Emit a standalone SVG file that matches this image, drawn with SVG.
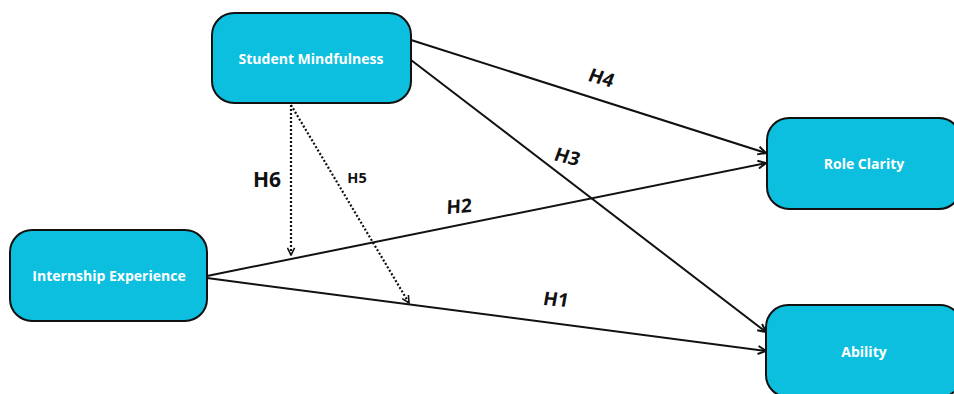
<svg xmlns="http://www.w3.org/2000/svg" width="954" height="394" viewBox="0 0 954 394">
<style>
.node rect{fill:#0dbfdf;stroke:#111;stroke-width:2}
.node text{font-family:"Open Sans","Noto Sans",sans-serif;font-weight:bold;font-size:14px;fill:#fff;text-anchor:middle}
.conn line{stroke:#111;stroke-width:2;fill:none}
.conn .dot{stroke-width:2.2;stroke-dasharray:2 2}
.lbl{font-family:"Open Sans","Noto Sans",sans-serif;font-weight:bold;fill:#111;text-anchor:middle}
</style>
<defs>
<marker id="ah" viewBox="0 0 10 10" refX="9" refY="5" markerWidth="10" markerHeight="10" markerUnits="userSpaceOnUse" orient="auto">
<path d="M1,1 L9,5 L1,9" fill="none" stroke="#111" stroke-width="2"/>
</marker>
<marker id="ahd" viewBox="0 0 10 10" refX="9" refY="5" markerWidth="9" markerHeight="9" markerUnits="userSpaceOnUse" orient="auto">
<path d="M1,1 L9,5 L1,9" fill="none" stroke="#111" stroke-width="1.8"/>
</marker>
</defs>
<g id="connectors" class="conn">
<line x1="411" y1="40" x2="766" y2="153" marker-end="url(#ah)"/>
<line x1="411" y1="60" x2="766" y2="332" marker-end="url(#ah)"/>
<line x1="207" y1="276" x2="766" y2="163" marker-end="url(#ah)"/>
<line x1="207" y1="278" x2="766" y2="351" marker-end="url(#ah)"/>
<line class="dot" x1="291" y1="105" x2="291" y2="255" marker-end="url(#ahd)"/>
<line class="dot" x1="291" y1="105" x2="409" y2="303" marker-end="url(#ahd)"/>
</g>
<g id="labels">
<text class="lbl" font-size="19" transform="translate(599,84) rotate(16) skewX(-6)">H4</text>
<text class="lbl" font-size="19" transform="translate(565,163) rotate(14) skewX(-6)">H3</text>
<text class="lbl" font-size="19" transform="translate(459,213) rotate(-4) skewX(-6)">H2</text>
<text class="lbl" font-size="19" transform="translate(555,306) rotate(4) skewX(-6)">H1</text>
<text class="lbl" font-size="21" x="267" y="187">H6</text>
<text class="lbl" font-size="14.5" x="357" y="183">H5</text>
</g>
<g id="student-mindfulness" class="node">
<rect x="212" y="13" width="199" height="90" rx="22"/>
<text x="311" y="64">Student Mindfulness</text>
</g>
<g id="internship-experience" class="node">
<rect x="10" y="230" width="197" height="91" rx="22"/>
<text x="109" y="281">Internship Experience</text>
</g>
<g id="role-clarity" class="node">
<rect x="767" y="118" width="194" height="91" rx="22"/>
<text x="864" y="169">Role Clarity</text>
</g>
<g id="ability" class="node">
<rect x="766" y="305" width="196" height="92" rx="22"/>
<text x="864" y="357">Ability</text>
</g>
</svg>
